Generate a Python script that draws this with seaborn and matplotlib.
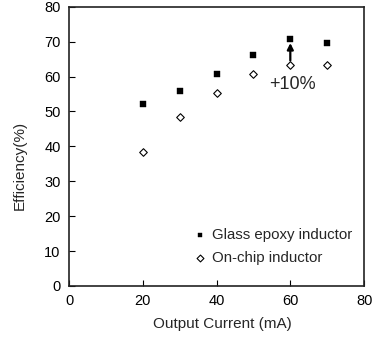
import pandas as pd
import matplotlib
matplotlib.use("Agg")
import matplotlib.pyplot as plt
import seaborn as sns

# Output current (mA) and efficiency (%)
current = [20, 30, 40, 50, 60, 70]
glass_epoxy = [52.0, 55.8, 60.7, 66.3, 70.9, 69.5]
on_chip = [38.3, 48.4, 55.4, 60.6, 63.2, 63.3]
series_names = ["Glass epoxy inductor", "On-chip inductor"]

df = pd.concat([
    pd.DataFrame({"current": current, "eff": glass_epoxy, "type": series_names[0]}),
    pd.DataFrame({"current": current, "eff": on_chip, "type": series_names[1]}),
])

sns.set_style("white")
plt.rcParams["font.family"] = ["Liberation Sans", "DejaVu Sans"]

fig = plt.figure(figsize=(3.74, 3.38), dpi=100)
ax = fig.add_axes([0.1845, 0.154, 0.789, 0.826])

sns.scatterplot(data=df[df["type"] == series_names[0]], x="current", y="eff",
                marker="s", color="black", s=13, edgecolor="black",
                label=series_names[0], ax=ax)
sns.scatterplot(data=df[df["type"] == series_names[1]], x="current", y="eff",
                marker="D", facecolor="white", edgecolor="black", linewidth=0.8,
                s=15, label=series_names[1], ax=ax)

# arrow marking the +10% gain at 60 mA
ax.annotate("", xy=(60, 69.6), xytext=(60, 64.6),
            arrowprops=dict(arrowstyle="-|>", color="black", lw=1.6,
                            mutation_scale=9, shrinkA=0, shrinkB=0))
ax.text(60.7, 57.8, "+10%", ha="center", va="center", fontsize=13)

ax.set_xlim(0, 80)
ax.set_ylim(0, 80)
ax.set_xticks(range(0, 81, 20))
ax.set_yticks(range(0, 81, 10))
ax.tick_params(axis="both", direction="in", length=4.5, width=0.8,
               labelsize=10.5, colors="black", pad=6,
               bottom=True, left=True, top=False, right=False)
ax.set_xlabel("Output Current (mA)", fontsize=11)
ax.set_ylabel("Efficiency(%)", fontsize=11)
ax.xaxis.set_label_coords(0.52, -0.112)
ax.yaxis.set_label_coords(-0.142, 0.43)
for sp in ax.spines.values():
    sp.set_color("#222222")
    sp.set_linewidth(1.2)

ax.legend(loc="lower right", bbox_to_anchor=(0.995, 0.038), frameon=False,
          fontsize=10.8, handlelength=1.0, handletextpad=0.3,
          labelspacing=0.6, borderaxespad=0.3, markerscale=0.9)

fig.savefig("out.png", dpi=100)
